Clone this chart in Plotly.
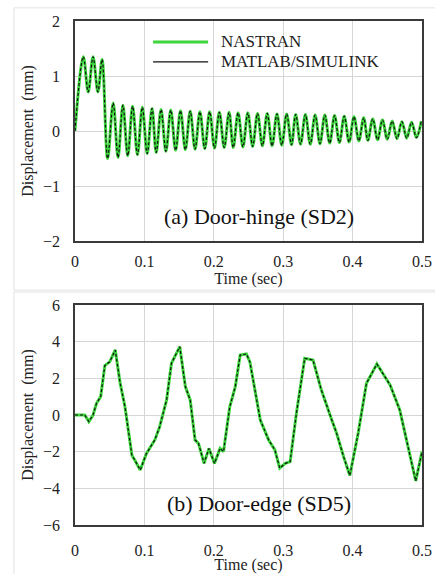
import plotly.graph_objects as go
from plotly.subplots import make_subplots

# ---- Panel (a) Door-hinge (SD2): extremes ----
t_a = [0, 0.012, 0.019, 0.026, 0.033, 0.039,
       0.047, 0.055, 0.062, 0.069, 0.076, 0.083, 0.090, 0.097, 0.104, 0.111,
       0.117, 0.124, 0.131, 0.138, 0.145, 0.152, 0.159, 0.166, 0.173, 0.180,
       0.187, 0.194, 0.201, 0.208, 0.215, 0.222, 0.228, 0.235, 0.242, 0.249,
       0.256, 0.263, 0.270, 0.277, 0.284, 0.291, 0.298, 0.305, 0.312, 0.318,
       0.325, 0.332, 0.339, 0.346, 0.353, 0.360, 0.367, 0.374, 0.381, 0.388,
       0.395, 0.402, 0.409, 0.416, 0.422, 0.429, 0.436, 0.443, 0.450, 0.457,
       0.464, 0.471, 0.478, 0.485, 0.492, 0.499]
d_a = [0, 1.35, 0.71, 1.35, 0.71, 1.30,
       -0.50, 0.51, -0.48, 0.47, -0.45, 0.45, -0.43, 0.43, -0.41, 0.41,
       -0.39, 0.39, -0.37, 0.38, -0.35, 0.37, -0.34, 0.36, -0.33, 0.35,
       -0.32, 0.35, -0.31, 0.34, -0.30, 0.34, -0.30, 0.33, -0.29, 0.33,
       -0.28, 0.32, -0.27, 0.32, -0.27, 0.31, -0.26, 0.31, -0.25, 0.30,
       -0.24, 0.30, -0.24, 0.29, -0.23, 0.29, -0.22, 0.28, -0.21, 0.27,
       -0.20, 0.26, -0.18, 0.24, -0.17, 0.22, -0.16, 0.20, -0.15, 0.18,
       -0.14, 0.17, -0.13, 0.16, -0.12, 0.18]

# ---- Panel (b) Door-edge (SD5) ----
t_b = [0, 0.014, 0.020, 0.026, 0.031, 0.037, 0.043, 0.050, 0.058, 0.065,
       0.072, 0.082, 0.086, 0.094, 0.103, 0.115, 0.122, 0.132, 0.139, 0.151,
       0.159, 0.166, 0.173, 0.178, 0.186, 0.193, 0.201, 0.209, 0.214, 0.223,
       0.231, 0.238, 0.247, 0.252, 0.267, 0.279, 0.288, 0.295, 0.303, 0.310,
       0.319, 0.331, 0.343, 0.355, 0.370, 0.377, 0.387, 0.396, 0.408, 0.420,
       0.435, 0.454, 0.468, 0.478, 0.491, 0.500]
d_b = [0, 0.0, -0.36, 0.0, 0.64, 1.0, 2.7, 2.9, 3.55, 1.75,
       0.45, -2.2, -2.45, -3.0, -2.1, -1.36, -0.64, 0.82, 2.82, 3.73,
       1.55, 0.82, -1.36, -1.55, -2.64, -1.82, -2.64, -1.82, -2.0, 0.45,
       1.55, 3.27, 3.33, 2.9, -0.27, -1.36, -1.9, -2.9, -2.64, -2.55,
       0.09, 3.09, 3.0, 1.36, -0.27, -1.0, -2.27, -3.3, -1.0, 1.73,
       2.78, 1.64, 0.27, -1.36, -3.6, -2.0]

assert len(t_a) == len(d_a) and len(t_b) == len(d_b)

series_names = ["NASTRAN", "MATLAB/SIMULINK"]
x_ticks = [0, 0.1, 0.2, 0.3, 0.4, 0.5]
y_ticks_a = [-2, -1, 0, 1, 2]
y_ticks_b = [-6, -4, -2, 0, 2, 4, 6]
panel_labels = ["(a) Door-hinge (SD2)", "(b) Door-edge (SD5)"]

GREEN = "#3dd63d"
SERIF = "Liberation Serif"

fig = make_subplots(rows=2, cols=1, vertical_spacing=0.0)

for row, (t, d, shp) in enumerate([(t_a, d_a, "spline"), (t_b, d_b, "linear")], start=1):
    fig.add_trace(go.Scatter(x=t, y=d, mode="lines", line=dict(color=GREEN, width=3, shape=shp),
                             showlegend=False, hoverinfo="skip"), row=row, col=1)
    fig.add_trace(go.Scatter(x=t, y=d, mode="lines",
                             line=dict(color="#111111", width=1.2, dash="3px,2px", shape=shp),
                             showlegend=False, hoverinfo="skip"), row=row, col=1)

axis_common = dict(showline=True, mirror=True, linecolor="#3a3a3a", linewidth=1.5,
                   showgrid=True, gridcolor="#d6d6d6", gridwidth=1, zeroline=False,
                   automargin=False,
                   ticks="", tickfont=dict(family=SERIF, size=16, color="#222222"))

fig.update_xaxes(range=[0, 0.5], tickvals=x_ticks, ticktext=[str(v) for v in x_ticks],
                 **axis_common)
fig.update_xaxes(ticklabelstandoff=5,
                 title=dict(text="Time (sec)", font=dict(family=SERIF, size=16, color="#222222"),
                            standoff=4), row=1, col=1)
fig.update_xaxes(ticklabelstandoff=10,
                 title=dict(text="Time (sec)", font=dict(family=SERIF, size=16, color="#222222"),
                            standoff=13), row=2, col=1)
fig.update_yaxes(ticklabelstandoff=10,
                 title=dict(text="Displacement  (mm)", font=dict(family=SERIF, size=16, color="#222222"),
                            standoff=5),
                 **axis_common)
fig.update_yaxes(range=[-2, 2], tickvals=y_ticks_a, row=1, col=1)
fig.update_yaxes(range=[-6, 6], tickvals=y_ticks_b, row=2, col=1)

fig.update_layout(
    xaxis=dict(domain=[0, 1]),
    yaxis=dict(domain=[0.5635, 1.0]),
    xaxis2=dict(domain=[0, 1]),
    yaxis2=dict(domain=[0.0, 0.4365]),
)

fig.add_annotation(x=0.265, y=-1.56, xref="x", yref="y", text=panel_labels[0], showarrow=False,
                   font=dict(family=SERIF, size=22, color="#111111"))
fig.add_annotation(x=0.265, y=-4.8, xref="x2", yref="y2", text=panel_labels[1], showarrow=False,
                   font=dict(family=SERIF, size=22, color="#111111"))

# legend (drawn inside panel a)
legend_rows = [(1.62, GREEN, 3), (1.255, "#111111", 1.3)]
for name, (ly, col, w) in zip(series_names, legend_rows):
    fig.add_shape(type="line", xref="x", yref="y", x0=0.1125, x1=0.1918, y0=ly, y1=ly,
                  line=dict(color=col, width=w))
    fig.add_annotation(x=0.208, y=ly, xref="x", yref="y", text=name, showarrow=False,
                       xanchor="left", yanchor="middle",
                       font=dict(family=SERIF, size=17, color="#222222"))

# faint outer frames of the two figure images
fig.add_shape(type="rect", xref="paper", yref="paper", x0=-0.176, x1=1.06, y0=0.466, y1=1.026,
              line=dict(color="#e2e2e2", width=1), layer="below")
fig.add_shape(type="rect", xref="paper", yref="paper", x0=-0.176, x1=1.06, y0=-0.2, y1=0.4623,
              line=dict(color="#e2e2e2", width=1), layer="below")

fig.update_layout(
    width=435, height=574,
    margin=dict(l=75, r=13, t=21, b=49),
    paper_bgcolor="white", plot_bgcolor="white",
    showlegend=False,
)

fig.write_html("out.html")
